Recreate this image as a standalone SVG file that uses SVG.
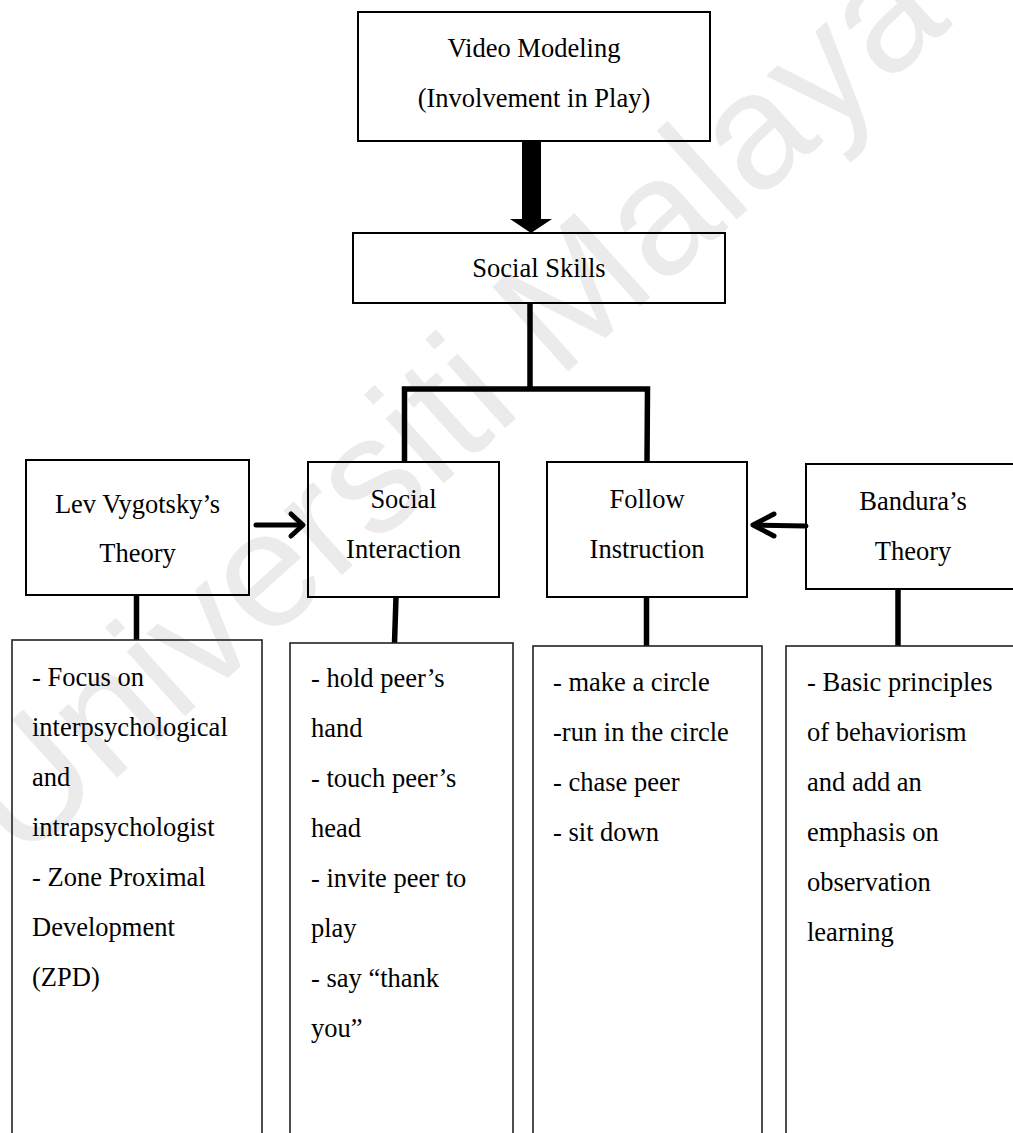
<svg xmlns="http://www.w3.org/2000/svg" width="1013" height="1133" viewBox="0 0 1013 1133">
<style>
.box{fill:none;stroke:#000;stroke-width:2}
.lbox{fill:none;stroke:#222;stroke-width:1.6}
.t{font-family:"Liberation Serif","Times New Roman",serif;font-size:26.5px;fill:#000}
.c{text-anchor:middle}
.ln{fill:none;stroke:#000;stroke-width:5.5;stroke-linejoin:miter}
.ar{fill:none;stroke:#000;stroke-width:5;stroke-linecap:round;stroke-linejoin:round}
.wm{font-family:"Liberation Sans",Arial,sans-serif;font-size:165px;fill:#ebebeb}
</style>
<rect width="1013" height="1133" fill="#fff"/>
<text class="wm" transform="translate(20,865) rotate(-42)">Universiti Malaya</text>
<g id="connectors">
<rect x="522" y="140" width="19" height="80" fill="#000"/>
<polygon points="510,219 552,219 531,233" fill="#000"/>
<line class="ln" x1="530" y1="303" x2="530" y2="389"/>
<polyline class="ln" points="404.5,462 404.5,389 647.5,389 647,462"/>
<line class="ln" x1="136.5" y1="595" x2="136.5" y2="640"/>
<line class="ln" x1="396" y1="597" x2="394.5" y2="643"/>
<line class="ln" x1="646.5" y1="597" x2="646.5" y2="646"/>
<line class="ln" x1="898" y1="589" x2="898" y2="646"/>
<line class="ar" x1="256" y1="525" x2="302" y2="525"/>
<polyline class="ar" points="291,514 303,525 291,536"/>
<line class="ar" x1="806" y1="526" x2="755" y2="525"/>
<polyline class="ar" points="774,514 753,525 774,536"/>
</g>
<g id="video-modeling">
<rect class="box" x="358" y="12" width="352" height="129"/>
<text class="t c" x="534" y="57">Video Modeling</text>
<text class="t c" x="534" y="107">(Involvement in Play)</text>
</g>
<g id="social-skills">
<rect class="box" x="353" y="233" width="372" height="70"/>
<text class="t c" x="539" y="277">Social Skills</text>
</g>
<g id="vygotsky">
<rect class="box" x="26" y="460" width="223" height="135"/>
<text class="t c" x="137.5" y="513">Lev Vygotsky’s</text>
<text class="t c" x="137.5" y="562">Theory</text>
</g>
<g id="social-interaction">
<rect class="box" x="308" y="462" width="191" height="135"/>
<text class="t c" x="403.5" y="508">Social</text>
<text class="t c" x="403.5" y="558">Interaction</text>
</g>
<g id="follow-instruction">
<rect class="box" x="547" y="462" width="200" height="135"/>
<text class="t c" x="647" y="508">Follow</text>
<text class="t c" x="647" y="558">Instruction</text>
</g>
<g id="bandura">
<rect class="box" x="806" y="464" width="214" height="125"/>
<text class="t c" x="913" y="510">Bandura’s</text>
<text class="t c" x="913" y="560">Theory</text>
</g>
<g id="vygotsky-details">
<rect class="lbox" x="12" y="640" width="250" height="510"/>
<text class="t" x="32" y="686">- Focus on</text>
<text class="t" x="32" y="736">interpsychological</text>
<text class="t" x="32" y="786">and</text>
<text class="t" x="32" y="836">intrapsychologist</text>
<text class="t" x="32" y="886">- Zone Proximal</text>
<text class="t" x="32" y="936">Development</text>
<text class="t" x="32" y="986">(ZPD)</text>
</g>
<g id="interaction-details">
<rect class="lbox" x="290" y="643" width="223" height="510"/>
<text class="t" x="311" y="687">- hold peer’s</text>
<text class="t" x="311" y="737">hand</text>
<text class="t" x="311" y="787">- touch peer’s</text>
<text class="t" x="311" y="837">head</text>
<text class="t" x="311" y="887">- invite peer to</text>
<text class="t" x="311" y="937">play</text>
<text class="t" x="311" y="987">- say “thank</text>
<text class="t" x="311" y="1037">you”</text>
</g>
<g id="instruction-details">
<rect class="lbox" x="533" y="646" width="229" height="510"/>
<text class="t" x="553" y="691">- make a circle</text>
<text class="t" x="553" y="741">-run in the circle</text>
<text class="t" x="553" y="791">- chase peer</text>
<text class="t" x="553" y="841">- sit down</text>
</g>
<g id="bandura-details">
<rect class="lbox" x="786" y="646" width="240" height="510"/>
<text class="t" x="807" y="691">- Basic principles</text>
<text class="t" x="807" y="741">of behaviorism</text>
<text class="t" x="807" y="791">and add an</text>
<text class="t" x="807" y="841">emphasis on</text>
<text class="t" x="807" y="891">observation</text>
<text class="t" x="807" y="941">learning</text>
</g>
</svg>
